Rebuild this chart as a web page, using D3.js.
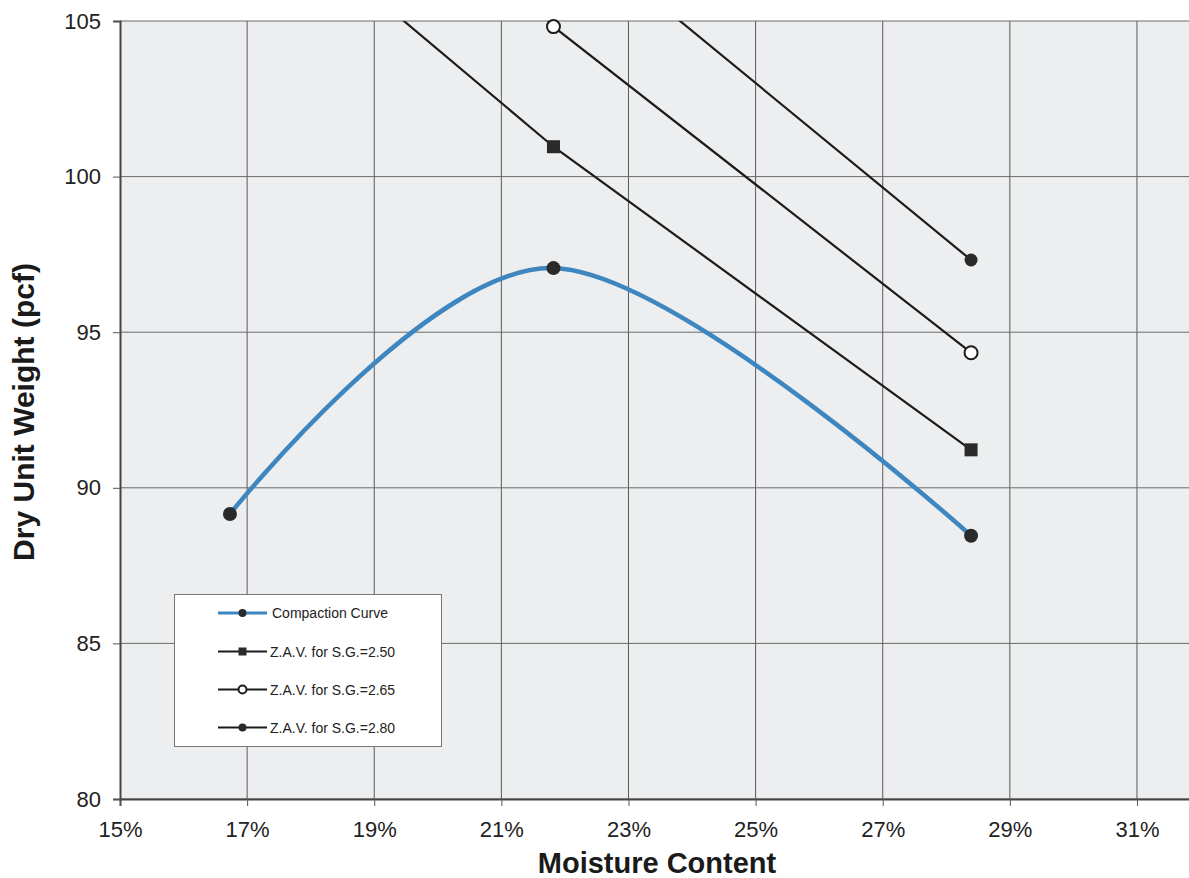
<!DOCTYPE html>
<html>
<head>
<meta charset="utf-8">
<script src="https://cdn.jsdelivr.net/npm/d3@7"></script>
<style>
  body { margin: 0; background: #fff; }
  svg { display: block; font-family: "Liberation Sans", Arial, sans-serif; }
</style>
</head>
<body>
<svg id="chart" width="1189" height="878"></svg>
<script>
// moisture content (fraction) for each test point
const moisture = [0.1673, 0.2182, 0.2839]
const compaction = [89.16, 97.06, 88.46]
// zero air voids lines, first point sits above the plot and gets clipped
const zav250 = [109.7, 100.96, 91.22]
const zav265 = [116.0, 104.82, 94.34]
const zav280 = [118.9, 108.34, 97.32]

const xTicks = [0.15, 0.17, 0.19, 0.21, 0.23, 0.25, 0.27, 0.29, 0.31]
const yTicks = [80, 85, 90, 95, 100, 105]

const legendNames = ['Compaction Curve', 'Z.A.V. for S.G.=2.50', 'Z.A.V. for S.G.=2.65', 'Z.A.V. for S.G.=2.80']

const svg = d3.select('#chart')
const plotLeft = 120
const plotTop = 21
const plotBottom = 799

// plot runs past the right edge of the window, like the scan
const x = d3.scaleLinear().domain([0.15, 0.33]).range([plotLeft, plotLeft + 18 * 63.56])
const y = d3.scaleLinear().domain([80, 105]).range([plotBottom, plotTop])
const plotRight = x.range()[1]

svg.append('defs').append('clipPath').attr('id', 'plotclip')
  .append('rect')
  .attr('x', plotLeft).attr('y', plotTop)
  .attr('width', plotRight - plotLeft).attr('height', plotBottom - plotTop)

// plot background
svg.append('rect')
  .attr('x', plotLeft).attr('y', plotTop)
  .attr('width', plotRight - plotLeft).attr('height', plotBottom - plotTop)
  .attr('fill', '#eceef0')

// grid
svg.append('g').selectAll('line')
  .data(xTicks.slice(1))
  .enter().append('line')
  .attr('x1', d => x(d)).attr('x2', d => x(d))
  .attr('y1', plotTop).attr('y2', plotBottom)
  .attr('stroke', '#5a5a5a').attr('stroke-width', 1)

svg.append('g').selectAll('line')
  .data(yTicks)
  .enter().append('line')
  .attr('x1', plotLeft).attr('x2', plotRight)
  .attr('y1', d => y(d)).attr('y2', d => y(d))
  .attr('stroke', '#6a6a6a').attr('stroke-width', 1)

// axes
const xAxis = svg.append('g')
  .attr('transform', `translate(0,${plotBottom})`)
  .call(d3.axisBottom(x).tickValues(xTicks).tickSize(7).tickPadding(15).tickFormat(d3.format('.0%')))
const yAxis = svg.append('g')
  .attr('transform', `translate(${plotLeft},0)`)
  .call(d3.axisLeft(y).tickValues(yTicks).tickSize(7).tickPadding(12))

xAxis.select('.domain').attr('stroke', '#444').attr('stroke-width', 2)
yAxis.select('.domain').attr('stroke', '#444').attr('stroke-width', 2)
svg.selectAll('.tick line').attr('stroke', '#555')
svg.selectAll('.tick text')
  .attr('fill', '#222')
  .style('font-size', '22px')
  .style('font-family', '"Liberation Sans", Arial, sans-serif')

// axis titles
svg.append('text')
  .attr('x', 657).attr('y', 873)
  .attr('text-anchor', 'middle')
  .style('font-size', '29px').style('font-weight', 'bold')
  .attr('fill', '#1a1a1a')
  .text('Moisture Content')

svg.append('text')
  .attr('transform', 'translate(34,412) rotate(-90)')
  .attr('text-anchor', 'middle')
  .style('font-size', '30px').style('font-weight', 'bold')
  .attr('fill', '#1a1a1a')
  .text('Dry Unit Weight (pcf)')

// series
const lines = svg.append('g').attr('clip-path', 'url(#plotclip)')
const straight = d3.line().x(d => x(d[0])).y(d => y(d[1]))
const smooth = d3.line().x(d => x(d[0])).y(d => y(d[1])).curve(d3.curveCatmullRom.alpha(0))

const zip = vals => moisture.map((m, i) => [m, vals[i]])

const zavSeries = [
  { vals: zav250, marker: 'square' },
  { vals: zav265, marker: 'open' },
  { vals: zav280, marker: 'dot' }
]

zavSeries.forEach(s => {
  lines.append('path')
    .attr('d', straight(zip(s.vals)))
    .attr('fill', 'none')
    .attr('stroke', '#1c1c1c')
    .attr('stroke-width', 2.2)
})

lines.append('path')
  .attr('d', smooth(zip(compaction)))
  .attr('fill', 'none')
  .attr('stroke', '#3d86bf')
  .attr('stroke-width', 4.5)

const markers = svg.append('g')

const drawMarker = (g, kind, cx, cy, size) => {
  if (kind === 'square') {
    g.append('rect')
      .attr('x', cx - size).attr('y', cy - size)
      .attr('width', size * 2).attr('height', size * 2)
      .attr('fill', '#2a2a2a')
  } else if (kind === 'open') {
    g.append('circle')
      .attr('cx', cx).attr('cy', cy).attr('r', size)
      .attr('fill', '#fff').attr('stroke', '#1c1c1c').attr('stroke-width', 2)
  } else {
    g.append('circle')
      .attr('cx', cx).attr('cy', cy).attr('r', size)
      .attr('fill', '#2a2a2a')
  }
}

zavSeries.forEach(s => {
  zip(s.vals).filter(d => d[1] <= 105.5).forEach(d => {
    drawMarker(markers, s.marker, x(d[0]), y(d[1]), 6.5)
  })
})
zip(compaction).forEach(d => {
  drawMarker(markers, 'dot', x(d[0]), y(d[1]), 7)
})

// legend
const legend = svg.append('g')
legend.append('rect')
  .attr('x', 174.5).attr('y', 594.5)
  .attr('width', 267).attr('height', 152)
  .attr('fill', '#fff').attr('stroke', '#777').attr('stroke-width', 1)

const legendRows = [
  { color: '#3d86bf', width: 3, marker: 'dot' },
  { color: '#1c1c1c', width: 2, marker: 'square' },
  { color: '#1c1c1c', width: 2, marker: 'open' },
  { color: '#1c1c1c', width: 2, marker: 'dot' }
]
const rowY = [613, 651.5, 689.5, 727.5]

legendRows.forEach((r, i) => {
  const g = legend.append('g')
  g.append('line')
    .attr('x1', 218).attr('x2', 267)
    .attr('y1', rowY[i]).attr('y2', rowY[i])
    .attr('stroke', r.color).attr('stroke-width', r.width)
  drawMarker(g, r.marker, 242.5, rowY[i], 4)
  g.append('text')
    .attr('x', i === 0 ? 272 : 270).attr('y', rowY[i] + 5)
    .style('font-size', '14px')
    .attr('fill', '#222')
    .text(legendNames[i])
})
</script>
</body>
</html>
